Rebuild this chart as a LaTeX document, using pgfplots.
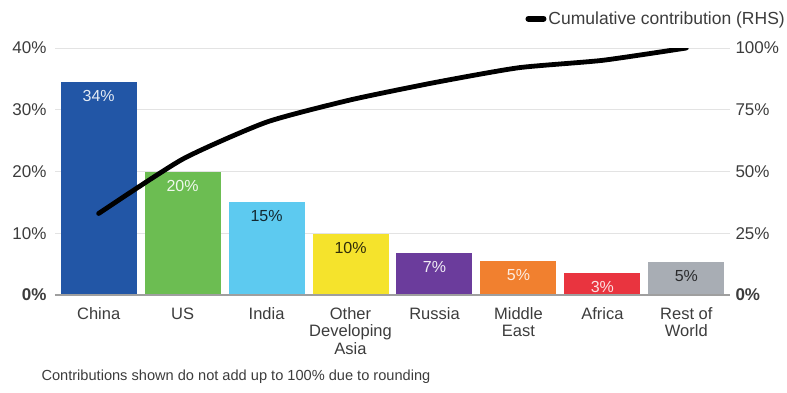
\documentclass[border=0pt]{standalone}
\usepackage{pgfplots}
\pgfplotsset{compat=1.18}
\usepackage{fontspec}
\setmainfont{Liberation Sans}
\definecolor{txt}{HTML}{3C3C3C}
\definecolor{cChina}{HTML}{2256A6}
\definecolor{cUS}{HTML}{6CBD52}
\definecolor{cIndia}{HTML}{5DCAF0}
\definecolor{cOther}{HTML}{F5E32C}
\definecolor{cRussia}{HTML}{6B3C9C}
\definecolor{cME}{HTML}{F1802F}
\definecolor{cAfrica}{HTML}{E9343F}
\definecolor{cRest}{HTML}{A8ADB4}
\newcommand{\ytickfont}{\fontsize{17}{18}\selectfont}
\newcommand{\xtickfont}{\fontsize{16.5}{17.5}\selectfont}
\newcommand{\barfont}{\fontsize{16}{17}\selectfont}
\pgfplotsset{
  barstyle/.style={ybar, bar width=76pt, bar shift=0pt, draw=none,
    nodes near coords, point meta=explicit symbolic,
    nodes near coords style={anchor=north, font=\barfont, yshift=-5pt}},
}
\begin{document}
\begin{tikzpicture}
\useasboundingbox (0pt,0pt) rectangle (787pt,392pt);
\begin{axis}[
  at={(55pt,97pt)}, anchor=south west, scale only axis,
  width=675pt, height=247pt,
  xmin=-0.52, xmax=7.52, ymin=0, ymax=40,
  axis line style={draw=none},
  major tick length=0pt,
  ymajorgrids, grid style={gray!22, line width=0.9pt},
  ytick={0,10,20,30,40},
  yticklabels={\textbf{0\%},10\%,20\%,30\%,40\%},
  yticklabel style={font=\ytickfont, text=txt, xshift=-5pt},
  xtick={0,1,2,3,4,5,6,7},
  xticklabels={China,US,India,{Other\\Developing\\Asia},Russia,{Middle\\East},Africa,{Rest of\\World}},
  xticklabel style={align=center, font=\xtickfont, text=txt, yshift=-9pt},
]
\addplot[barstyle, fill=cChina, nodes near coords style={text=white!88!cChina}] coordinates {(0,34.5) [34\%]};
\addplot[barstyle, fill=cUS, nodes near coords style={text=white!90!cUS}] coordinates {(1,20) [20\%]};
\addplot[barstyle, fill=cIndia, nodes near coords style={text=black!80!cIndia}] coordinates {(2,15.1) [15\%]};
\addplot[barstyle, fill=cOther, nodes near coords style={text=black!80!cOther}] coordinates {(3,9.9) [10\%]};
\addplot[barstyle, fill=cRussia, nodes near coords style={text=white!90!cRussia}] coordinates {(4,6.8) [7\%]};
\addplot[barstyle, fill=cME, nodes near coords style={text=white!85!cME}] coordinates {(5,5.5) [5\%]};
\addplot[barstyle, fill=cAfrica, nodes near coords style={text=white!85!cAfrica}] coordinates {(6,3.6) [3\%]};
\addplot[barstyle, fill=cRest, nodes near coords style={text=black!75!cRest}] coordinates {(7,5.3) [5\%]};
\draw[gray!75, line width=1.3pt] (axis cs:-0.52,0) -- (axis cs:7.52,0);
\end{axis}
\begin{axis}[
  at={(55pt,97pt)}, anchor=south west, scale only axis,
  width=675pt, height=247pt,
  xmin=-0.52, xmax=7.52, ymin=0, ymax=100,
  axis line style={draw=none},
  major tick length=0pt,
  xtick=\empty,
  ytick={0,25,50,75,100},
  yticklabels={\textbf{0\%},25\%,50\%,75\%,100\%},
  yticklabel pos=right,
  yticklabel style={font=\ytickfont, text=txt, xshift=2pt},
  legend style={at={(axis description cs:1,1)}, anchor=south east, xshift=57pt, yshift=20pt,
    draw=none, fill=none, font=\fontsize{17.5}{19}\selectfont, text=txt, inner sep=0pt},
  legend image code/.code={\draw[line width=6pt] (0pt,0pt) -- (15pt,0pt);},
]
\addplot[black, line width=4.8pt, line cap=round, smooth, tension=0.35] coordinates {(0,33) (1,55) (2,70) (3,79) (4,86) (5,92) (6,95) (7,100)};
\addlegendentry{Cumulative contribution (RHS)}
\end{axis}
\node[anchor=west, font=\fontsize{14.6}{17}\selectfont, text=txt] at (38pt,15pt) {Contributions shown do not add up to 100\% due to rounding};
\end{tikzpicture}
\end{document}
